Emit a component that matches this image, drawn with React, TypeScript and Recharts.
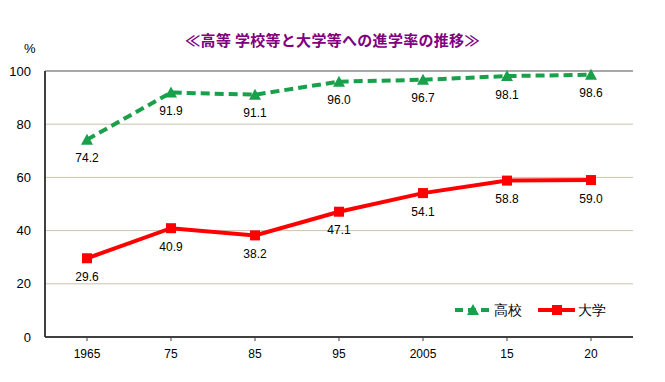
import React from 'react';
import { LineChart, Line, XAxis, YAxis, CartesianGrid, LabelList, ReferenceLine } from 'recharts';

const years = ['1965', '75', '85', '95', '2005', '15', '20'];
const highSchool = [74.2, 91.9, 91.1, 96.0, 96.7, 98.1, 98.6];
const university = [29.6, 40.9, 38.2, 47.1, 54.1, 58.8, 59.0];
const yTicks = [0, 20, 40, 60, 80, 100];
const seriesNames = ['高校', '大学'];
const title = '≪高等 学校等と大学等への進学率の推移≫';

const data = years.map((y, i) => ({ year: y, hs: highSchool[i], univ: university[i] }));

const GREEN = '#18a04a';
const RED = '#ff0000';
const FONT = '"Liberation Sans", Arial, sans-serif';

const Triangle = (props: any) => {
  const { cx, cy } = props;
  if (cx == null || cy == null) return null;
  return <polygon points={`${cx},${cy - 6} ${cx + 6},${cy + 5} ${cx - 6},${cy + 5}`} fill={GREEN} />;
};
const Square = (props: any) => {
  const { cx, cy } = props;
  if (cx == null || cy == null) return null;
  return <rect x={cx - 5} y={cy - 5} width={10} height={10} fill={RED} />;
};

const fmt = (v: any) => Number(v).toFixed(1);

const LegendBox = () => (
  <svg width={170} height={20} style={{ position: 'absolute', left: 452, top: 300 }}>
    <line x1={3} y1={10} x2={39} y2={10} stroke={GREEN} strokeWidth={4} strokeDasharray="8 5" />
    <polygon points="21,4 27,15 15,15" fill={GREEN} />
    <text x={42} y={15} fontSize={14} fontFamily={FONT} fill="#000">{seriesNames[0]}</text>
    <line x1={86} y1={10} x2={123} y2={10} stroke={RED} strokeWidth={4} />
    <rect x={100} y={5} width={10} height={10} fill={RED} />
    <text x={126} y={15} fontSize={14} fontFamily={FONT} fill="#000">{seriesNames[1]}</text>
  </svg>
);

export default function App() {
  return (
    <div style={{ position: 'absolute', left: 0, top: 0, width: 665, height: 382, background: '#fff' }}>
      <div style={{ position: 'absolute', left: 0, top: 29, width: 665, textAlign: 'center', fontFamily: '"Noto Sans CJK JP", sans-serif', fontWeight: 'bold', fontSize: 15, letterSpacing: 0.3, color: '#800080' }}>
        {title}
      </div>
      <div style={{ position: 'absolute', left: 24, top: 41, fontFamily: FONT, fontSize: 13, color: '#000' }}>%</div>
      <LineChart width={665} height={382} data={data} margin={{ top: 71, right: 32, left: 0, bottom: 0 }}>
        <CartesianGrid vertical={false} stroke="#c9c4ac" strokeWidth={1} />
        <XAxis dataKey="year" height={45} padding={{ left: 42, right: 42 }} axisLine={{ stroke: '#404040', strokeWidth: 2 }} tickLine={{ stroke: '#404040' }} tickSize={4}
          tick={{ fontSize: 12, fill: '#000', fontFamily: FONT }} tickMargin={8} />
        <YAxis domain={[0, 100]} ticks={yTicks} width={45} axisLine={{ stroke: '#404040', strokeWidth: 2 }} tickLine={false}
          tick={{ fontSize: 13, fill: '#000', fontFamily: FONT }} tickMargin={8} interval={0} />
        <YAxis yAxisId="r" orientation="right" width={0} domain={[0, 100]} axisLine={{ stroke: '#909090', strokeWidth: 1 }} tick={false} tickLine={false} />
        <ReferenceLine y={100} stroke="#a8a8a8" strokeWidth={2} />
        <Line dataKey="hs" name={seriesNames[0]} stroke={GREEN} strokeWidth={4} strokeDasharray="9 5" dot={<Triangle />} isAnimationActive={false}>
          <LabelList dataKey="hs" position="bottom" offset={14} formatter={fmt} style={{ fontSize: 12, fill: '#000', fontFamily: FONT }} />
        </Line>
        <Line dataKey="univ" name={seriesNames[1]} stroke={RED} strokeWidth={4} dot={<Square />} isAnimationActive={false}>
          <LabelList dataKey="univ" position="bottom" offset={14} formatter={fmt} style={{ fontSize: 12, fill: '#000', fontFamily: FONT }} />
        </Line>
      </LineChart>
      <LegendBox />
    </div>
  );
}
